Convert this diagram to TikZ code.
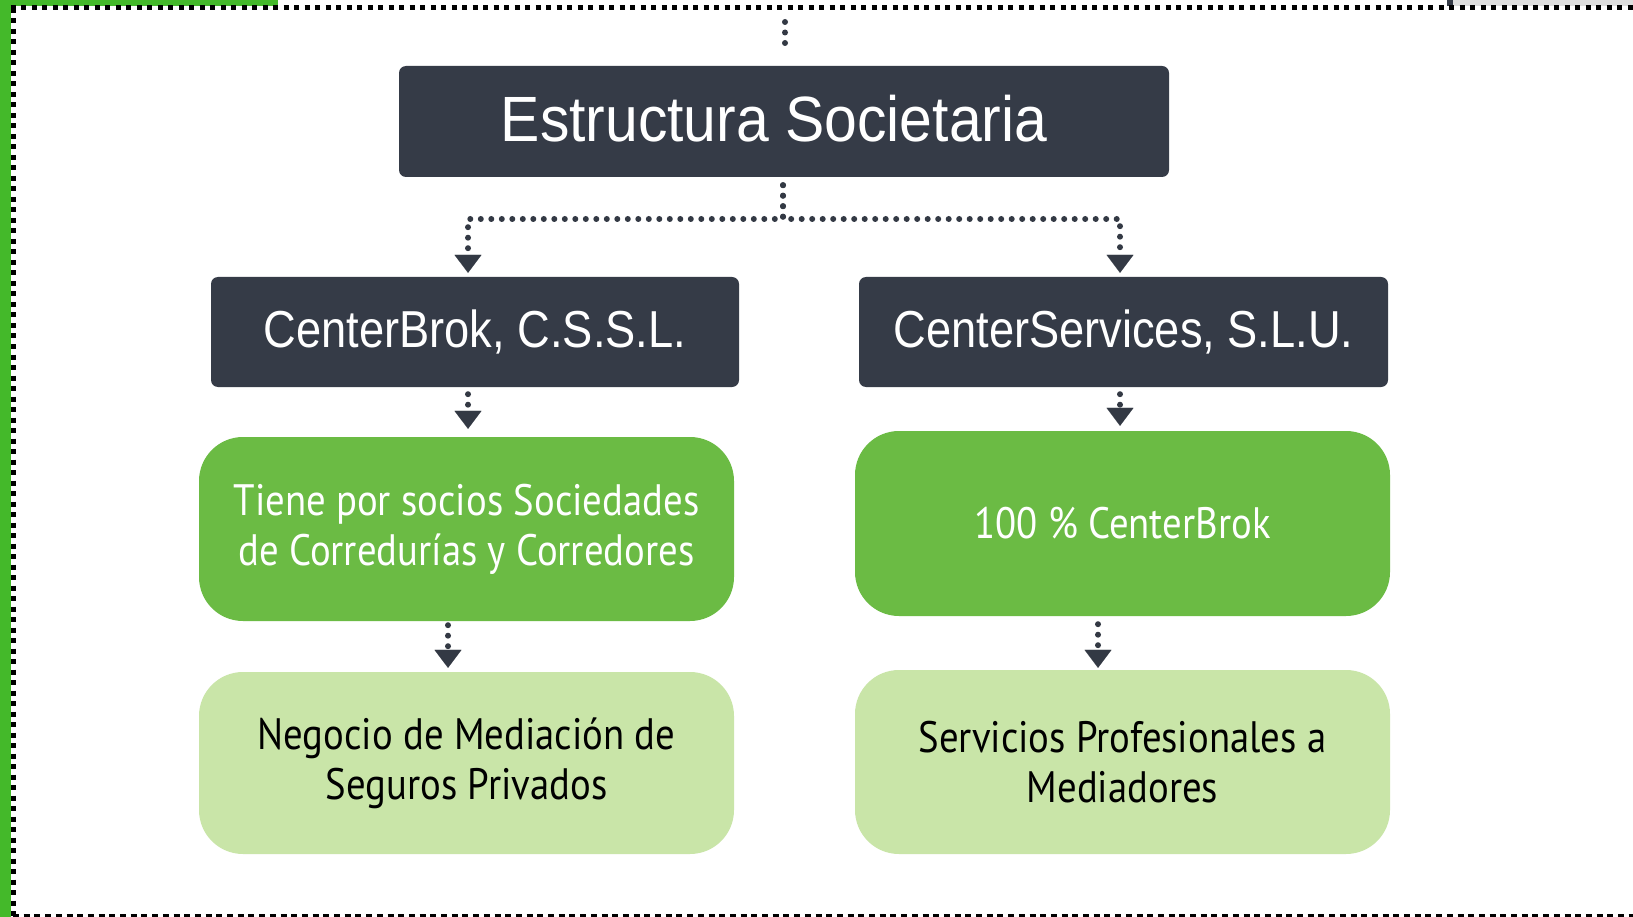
\documentclass[tikz,border=0pt]{standalone}
\usepackage{fontspec}
\usetikzlibrary{arrows.meta}
\newfontfamily\headfont[FakeStretch=0.92]{Liberation Sans}
\newfontfamily\subfont[FakeStretch=0.87]{Liberation Sans}
\newfontfamily\boxfont[FakeStretch=0.88]{PT Sans}
\definecolor{darkbox}{HTML}{353B47}
\definecolor{midgreen}{HTML}{6BBB44}
\definecolor{lightgreen}{HTML}{C9E5A8}
\definecolor{framegreen}{HTML}{44B92A}
\definecolor{dotgray}{HTML}{333944}
\tikzset{
  darkstyle/.style={draw=none, fill=darkbox, rounded corners=7pt, inner sep=0pt, text=white, font=\headfont},
  greenstyle/.style={draw=none, fill=midgreen, rounded corners=44pt, inner sep=0pt, text=white, align=center, font=\boxfont\fontsize{44}{50}\selectfont},
  lightstyle/.style={draw=none, fill=lightgreen, rounded corners=44pt, inner sep=0pt, text=black, align=center, font=\boxfont\fontsize{44}{50}\selectfont},
  dotline/.style={draw=dotgray, line width=6pt, line cap=round, dash pattern=on 0pt off 10.5pt},
  dotarrow/.style={dotline, -{Triangle[width=27pt,length=18pt,line width=0.1pt,round=false]}},
  framedots/.style={black, line width=5pt, dash pattern=on 5pt off 5.5pt},
}
\begin{document}
\begin{tikzpicture}[x=1pt,y=-1pt]
\useasboundingbox (0,0) rectangle (1633,917);
\fill[white] (0,0) rectangle (1633,917);
% frame
\fill[framegreen] (0,0) rectangle (11,917);
\fill[framegreen] (0,0) rectangle (278,6.5);
\fill[gray!25] (1447,0) rectangle (1633,6.5);
\fill[darkbox] (1447,0) rectangle (1453,6.5);
\draw[framedots] (10.5,8) -- (1633,8);
\draw[framedots] (13,8) -- (13,917);
\draw[black, line width=2.2pt, dash pattern=on 6pt off 4.7pt] (13,915.5) -- (1633,915.5);

% nodes
\node[darkstyle, minimum width=770pt, minimum height=111pt] (title) at (784,121.5) {};
\node[text=white, font=\headfont\fontsize{64}{70}\selectfont, inner sep=0pt] (titletext) at (774,118.5) {Estructura Societaria};
\node[darkstyle, minimum width=528pt, minimum height=110pt, font=\subfont\fontsize{52}{60}\selectfont] (cb) at (475,332) {CenterBrok, C.S.S.L.};
\node[darkstyle, minimum width=529pt, minimum height=110pt, font=\subfont\fontsize{52}{60}\selectfont] (cs) at (1123.5,332) {CenterServices, S.L.U.};
\node[greenstyle, minimum width=535pt, minimum height=184pt] (g1) at (466.5,529) {Tiene por socios Sociedades\\de Corredurías y Corredores};
\node[greenstyle, minimum width=535pt, minimum height=185pt] (g2) at (1122.5,523.5) {100 \% CenterBrok};
\node[lightstyle, minimum width=535pt, minimum height=182pt] (l1) at (466.5,763) {Negocio de Mediación de\\Seguros Privados};
\node[lightstyle, minimum width=535pt, minimum height=184pt] (l2) at (1122.5,762) {Servicios Profesionales a\\Mediadores};

% connectors
\coordinate (topin) at (785,22);
\draw[dotline] (topin) -- (785,44);
\draw[dotarrow] ([yshift=-8pt]title.south -| 783,0) -- (783,219) -- (468,219) -- ([yshift=4pt]cb.north -| 468,0);
\draw[dotarrow] ([yshift=-8pt]title.south -| 783,0) -- (783,219) -- (1120,219) -- ([yshift=4pt]cs.north -| 1120,0);
\draw[dotarrow] ([yshift=-7pt]cb.south -| 468,0) -- ([yshift=8pt]g1.north -| 468,0);
\draw[dotarrow] ([yshift=-7pt]cs.south -| 1120,0) -- ([yshift=5pt]g2.north -| 1120,0);
\draw[dotarrow] ([yshift=-4pt]g1.south -| 448,0) -- ([yshift=4pt]l1.north -| 448,0);
\draw[dotarrow] ([yshift=-8pt]g2.south -| 1098,0) -- ([yshift=2pt]l2.north -| 1098,0);
\end{tikzpicture}
\end{document}
